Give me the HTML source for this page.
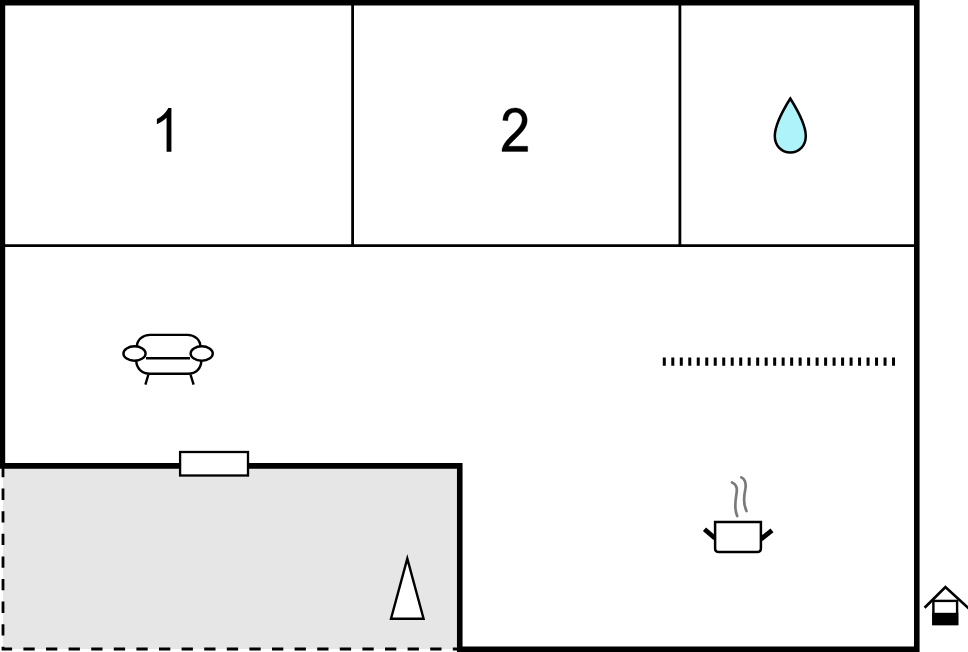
<!DOCTYPE html>
<html>
<head>
<meta charset="utf-8">
<title>Floor plan</title>
<style>
html,body{margin:0;padding:0;background:#fff;}
body{width:968px;height:652px;overflow:hidden;font-family:"Liberation Sans",sans-serif;}
svg{display:block;}
</style>
</head>
<body>
<svg xmlns="http://www.w3.org/2000/svg" width="968" height="652" viewBox="0 0 968 652">
  <rect x="0" y="0" width="968" height="652" fill="#ffffff"/>
  <!-- terrace (grey) -->
  <rect x="3" y="466" width="457" height="183" fill="#e6e6e6"/>
  <!-- terrace dashed border -->
  <path d="M3 466 L3 649 L460 649" fill="none" stroke="#000" stroke-width="2.8" stroke-dasharray="11.3 11.3" stroke-dashoffset="0"/>
  <!-- thin interior walls -->
  <line x1="0" y1="245.6" x2="917" y2="245.6" stroke="#000" stroke-width="2.8"/>
  <line x1="352.6" y1="0" x2="352.6" y2="245.6" stroke="#000" stroke-width="2.8"/>
  <line x1="679.9" y1="0" x2="679.9" y2="245.6" stroke="#000" stroke-width="2.8"/>
  <!-- outer thick walls -->
  <path d="M2.4 468.65 L2.4 2.6 L916.78 2.6 L916.78 649.3 L459.75 649.3 L459.75 465.85 L0 465.85" fill="none" stroke="#000" stroke-width="5.6" stroke-linejoin="miter"/>
  <!-- window / door -->
  <rect x="180.1" y="452" width="67.9" height="23.5" fill="#fff" stroke="#000" stroke-width="2.3"/>
  <!-- room numbers -->
  <path transform="translate(171.42,151.7) scale(0.0269,-0.02962) translate(-763,0)" d="M763 0H583V1147Q518 1085 412.5 1023T223 930V1104Q374 1175 487 1276T647 1472H763V0Z" fill="#000"/>
  <path transform="translate(501.95,151.45) scale(0.02655,-0.0304) translate(-62,0)" stroke="#000" stroke-width="0.35" vector-effect="non-scaling-stroke" d="M1031 170V0H62Q60 64 83 123Q119 219 198.5 312T428 529Q661 720 743 831.5T825 1044Q825 1148 750.5 1219.5T557 1291Q431 1291 355.5 1215.5T279 1006L94 1025Q113 1224 231.5 1328.5T561 1433Q769 1433 890.5 1317.5T1012 1032Q1012 947 977 865T860.5 692T559 412Q412 289 370.5 245T302 170H1031Z" fill="#000"/>
  <!-- water drop -->
  <path d="M790.3 98.5 C783.3 109.7 774.8 124.5 774.8 136 C774.8 145.7 781.5 152.5 790.3 152.5 C799.1 152.5 805.8 145.7 805.8 136 C805.8 124.5 797.3 109.7 790.3 98.5 Z" fill="#aef3fa" stroke="#000" stroke-width="2.5" stroke-linejoin="miter"/>
  <!-- sofa -->
  <g fill="none" stroke="#000" stroke-width="2.4">
    <path d="M136.9 346.8 C136.9 339.5 143 334.9 150 334.9 L187.5 334.9 C194.5 334.9 200.4 339.5 200.4 346.8"/>
    <path d="M136.3 360.5 C136.3 368.5 142 373.7 150 373.7 L188 373.7 C196 373.7 201.3 368.5 201.3 360.5"/>
    <line x1="146" y1="358.2" x2="190" y2="358.2"/>
    <ellipse cx="134.5" cy="353.5" rx="11.1" ry="7.2"/>
    <ellipse cx="201.7" cy="353.5" rx="11.1" ry="7.2"/>
    <line x1="148.4" y1="374.5" x2="145.4" y2="384.6"/>
    <line x1="190.5" y1="374.5" x2="193.6" y2="384.6"/>
  </g>
  <!-- partition ticks -->
  <line x1="662.8" y1="361.6" x2="896" y2="361.6" stroke="#000" stroke-width="8.4" stroke-dasharray="3 5.49"/>
  <!-- cooking pot -->
  <g fill="none" stroke="#000">
    <line x1="704.5" y1="529.2" x2="715" y2="538.3" stroke-width="4.8"/>
    <line x1="772" y1="530.4" x2="761" y2="539" stroke-width="4.8"/>
    <path d="M715.1 522.1 L760.9 522.1 L760.9 548.2 Q760.9 552.1 757 552.1 L719 552.1 Q715.1 552.1 715.1 548.2 Z" fill="#fff" stroke-width="2.5"/>
    <path d="M732 482.4 C737.5 485 737.3 489.5 736.3 495 C735.3 501 734.5 510 737.2 516" stroke="#7a7a7a" stroke-width="2.7" stroke-linecap="round"/>
    <path d="M741.3 477.4 C746.5 480 746.3 485 745.1 490.5 C743.8 497 743.5 505 746.5 511" stroke="#7a7a7a" stroke-width="2.7" stroke-linecap="round"/>
  </g>
  <!-- triangle -->
  <polygon points="407.3,558.6 391,618.8 423.6,618.8" fill="#fff" stroke="#000" stroke-width="2.4"/>
  <!-- house icon -->
  <g>
    <path d="M924.6 607.7 L945.4 587 L969 608.7" fill="none" stroke="#000" stroke-width="2.7"/>
    <rect x="933.4" y="600.9" width="23.7" height="23.1" fill="#fff" stroke="#000" stroke-width="2.4"/>
    <rect x="932.2" y="612.8" width="26.1" height="12.4" fill="#000"/>
  </g>
</svg>
</body>
</html>
